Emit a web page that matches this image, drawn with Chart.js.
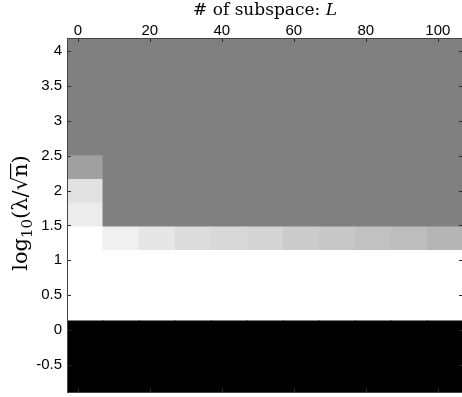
<!DOCTYPE html>
<html><head><meta charset="utf-8">
<script src="https://cdn.jsdelivr.net/npm/chart.js@4/dist/chart.umd.min.js"></script>
<style>html,body{margin:0;padding:0;background:#fff;overflow:hidden}canvas{display:block}</style>
</head><body>
<canvas id="c" width="470" height="406"></canvas>
<script>
// # of subspace L (column centres)
const subspaceL = [2, 12, 22, 32, 42, 52, 62, 72, 82, 92, 102];
// log10(lambda/sqrt(n)) row centres, bottom to top
const logLambda = [-0.72, -0.38, -0.04, 0.29, 0.63, 0.97, 1.31, 1.65, 1.99, 2.33, 2.66, 3.00, 3.34, 3.68, 4.02];
// grey intensity per cell (0 = black, 1 = white), rows bottom to top
const row0  = [0,0,0,0,0,0,0,0,0,0,0];
const row1  = [0,0,0,0,0,0,0,0,0,0,0];
const row2  = [0,0,0,0,0,0,0,0,0,0,0];
const row3  = [1,1,1,1,1,1,1,1,1,1,1];
const row4  = [1,1,1,1,1,1,1,1,1,1,1];
const row5  = [1,1,1,1,1,1,1,1,1,1,1];
const row6  = [1, 0.94, 0.90, 0.863, 0.847, 0.835, 0.796, 0.784, 0.757, 0.741, 0.71];
const row7  = [0.925, 0.5,0.5,0.5,0.5,0.5,0.5,0.5,0.5,0.5,0.5];
const row8  = [0.882, 0.5,0.5,0.5,0.5,0.5,0.5,0.5,0.5,0.5,0.5];
const row9  = [0.627, 0.5,0.5,0.5,0.5,0.5,0.5,0.5,0.5,0.5,0.5];
const row10 = [0.5,0.5,0.5,0.5,0.5,0.5,0.5,0.5,0.5,0.5,0.5];
const row11 = [0.5,0.5,0.5,0.5,0.5,0.5,0.5,0.5,0.5,0.5,0.5];
const row12 = [0.5,0.5,0.5,0.5,0.5,0.5,0.5,0.5,0.5,0.5,0.5];
const row13 = [0.5,0.5,0.5,0.5,0.5,0.5,0.5,0.5,0.5,0.5,0.5];
const row14 = [0.5,0.5,0.5,0.5,0.5,0.5,0.5,0.5,0.5,0.5,0.5];
const intensity = [row0,row1,row2,row3,row4,row5,row6,row7,row8,row9,row10,row11,row12,row13,row14];
const xTickValues = [0, 20, 40, 60, 80, 100];
const yTickValues = [-0.5, 0, 0.5, 1, 1.5, 2, 2.5, 3, 3.5, 4];

const halfRow = (logLambda[logLambda.length-1] - logLambda[0]) / (logLambda.length - 1) / 2;
const halfCol = (subspaceL[1] - subspaceL[0]) / 2;
const grey = v => { const g = Math.round(v * 255); return `rgb(${g},${g},${g})`; };

const datasets = logLambda.map((yc, r) => ({
  data: subspaceL.map(xc => ({ x: xc, y: [yc - halfRow, yc + halfRow] })),
  backgroundColor: intensity[r].map(grey),
  borderWidth: 0,
  grouped: false,
  barPercentage: 1,
  categoryPercentage: 1,
  inflateAmount: 0.5
}));

const tickFont = { family: 'Liberation Sans, Arial, sans-serif', size: 15 };

const decor = {
  id: 'decor',
  afterDatasetsDraw(chart) {
    const { ctx, chartArea: a, scales: { x, y } } = chart;
    ctx.save();
    ctx.strokeStyle = '#2a2a2a';
    ctx.lineWidth = 1;
    ctx.beginPath();
    x.ticks.forEach(t => {
      const px = Math.round(x.getPixelForValue(t.value)) + 0.5;
      ctx.moveTo(px, a.top); ctx.lineTo(px, a.top + 4);
      ctx.moveTo(px, a.bottom); ctx.lineTo(px, a.bottom - 4);
    });
    y.ticks.forEach(t => {
      const py = Math.round(y.getPixelForValue(t.value)) + 0.5;
      ctx.moveTo(a.left, py); ctx.lineTo(a.left + 4, py);
      ctx.moveTo(a.right, py); ctx.lineTo(a.right - 4, py);
    });
    ctx.stroke();
    ctx.strokeStyle = '#444';
    ctx.strokeRect(Math.round(a.left) + 0.5, Math.round(a.top) + 0.5, Math.round(a.right - a.left), Math.round(a.bottom - a.top));
    ctx.restore();
  },
  afterDraw(chart) {
    const { ctx, chartArea: a } = chart;
    ctx.save();
    ctx.fillStyle = '#000';
    ctx.textBaseline = 'alphabetic';
    // x title
    const f1 = '17px "DejaVu Serif", serif';
    const f1i = 'italic 17px "DejaVu Serif", serif';
    const t1 = '# of subspace: ', t2 = 'L';
    ctx.font = f1; const w1 = ctx.measureText(t1).width;
    ctx.font = f1i; const w2 = ctx.measureText(t2).width;
    let sx = (a.left + a.right) / 2 - (w1 + w2) / 2;
    ctx.font = f1; ctx.fillText(t1, sx, 15);
    ctx.font = f1i; ctx.fillText(t2, sx + w1, 15);
    // y title (rotated)
    ctx.translate(27, (a.top + a.bottom) / 2 - 2);
    ctx.rotate(-Math.PI / 2);
    const big = '21px "DejaVu Serif", serif';
    const parts = [
      ['log', big, 0],
      ['10', '15px "DejaVu Serif", serif', 5],
      ['(λ/√', big, 0],
      ['n', big, 0],
      [')', big, 0]
    ];
    let tw = 0;
    parts.forEach(p => { ctx.font = p[1]; p.push(ctx.measureText(p[0]).width); tw += p[3]; });
    let cx = -tw / 2;
    parts.forEach(p => {
      ctx.font = p[1];
      ctx.fillText(p[0], cx, p[2]);
      if (p[0] === 'n') { ctx.fillRect(cx - 1, -17, p[3] + 1, 1.2); }
      cx += p[3];
    });
    ctx.restore();
  }
};

new Chart(document.getElementById('c'), {
  type: 'bar',
  data: { datasets },
  options: {
    responsive: false,
    animation: false,
    layout: { padding: { left: 0, right: 7, top: 0, bottom: 0 } },
    plugins: { legend: { display: false }, tooltip: { enabled: false } },
    scales: {
      x: {
        type: 'linear', position: 'top', offset: false,
        min: subspaceL[0] - halfCol, max: subspaceL[subspaceL.length-1] + halfCol,
        afterBuildTicks: s => { s.ticks = xTickValues.map(v => ({ value: v })); },
        afterFit: s => { s.height = 38; },
        grid: { display: true, drawOnChartArea: false, drawTicks: false, offset: false },
        border: { display: false },
        ticks: { font: tickFont, color: '#000', padding: -2, maxRotation: 0, callback: v => String(v) }
      },
      y: {
        type: 'linear',
        min: logLambda[0] - halfRow, max: logLambda[logLambda.length-1] + halfRow,
        afterBuildTicks: s => { s.ticks = yTickValues.map(v => ({ value: v })); },
        afterFit: s => { s.width = 67; },
        grid: { display: true, drawOnChartArea: false, drawTicks: false },
        border: { display: false },
        ticks: { font: tickFont, color: '#000', padding: 5, callback: v => String(v) }
      }
    }
  },
  plugins: [decor]
});
</script>
</body></html>
